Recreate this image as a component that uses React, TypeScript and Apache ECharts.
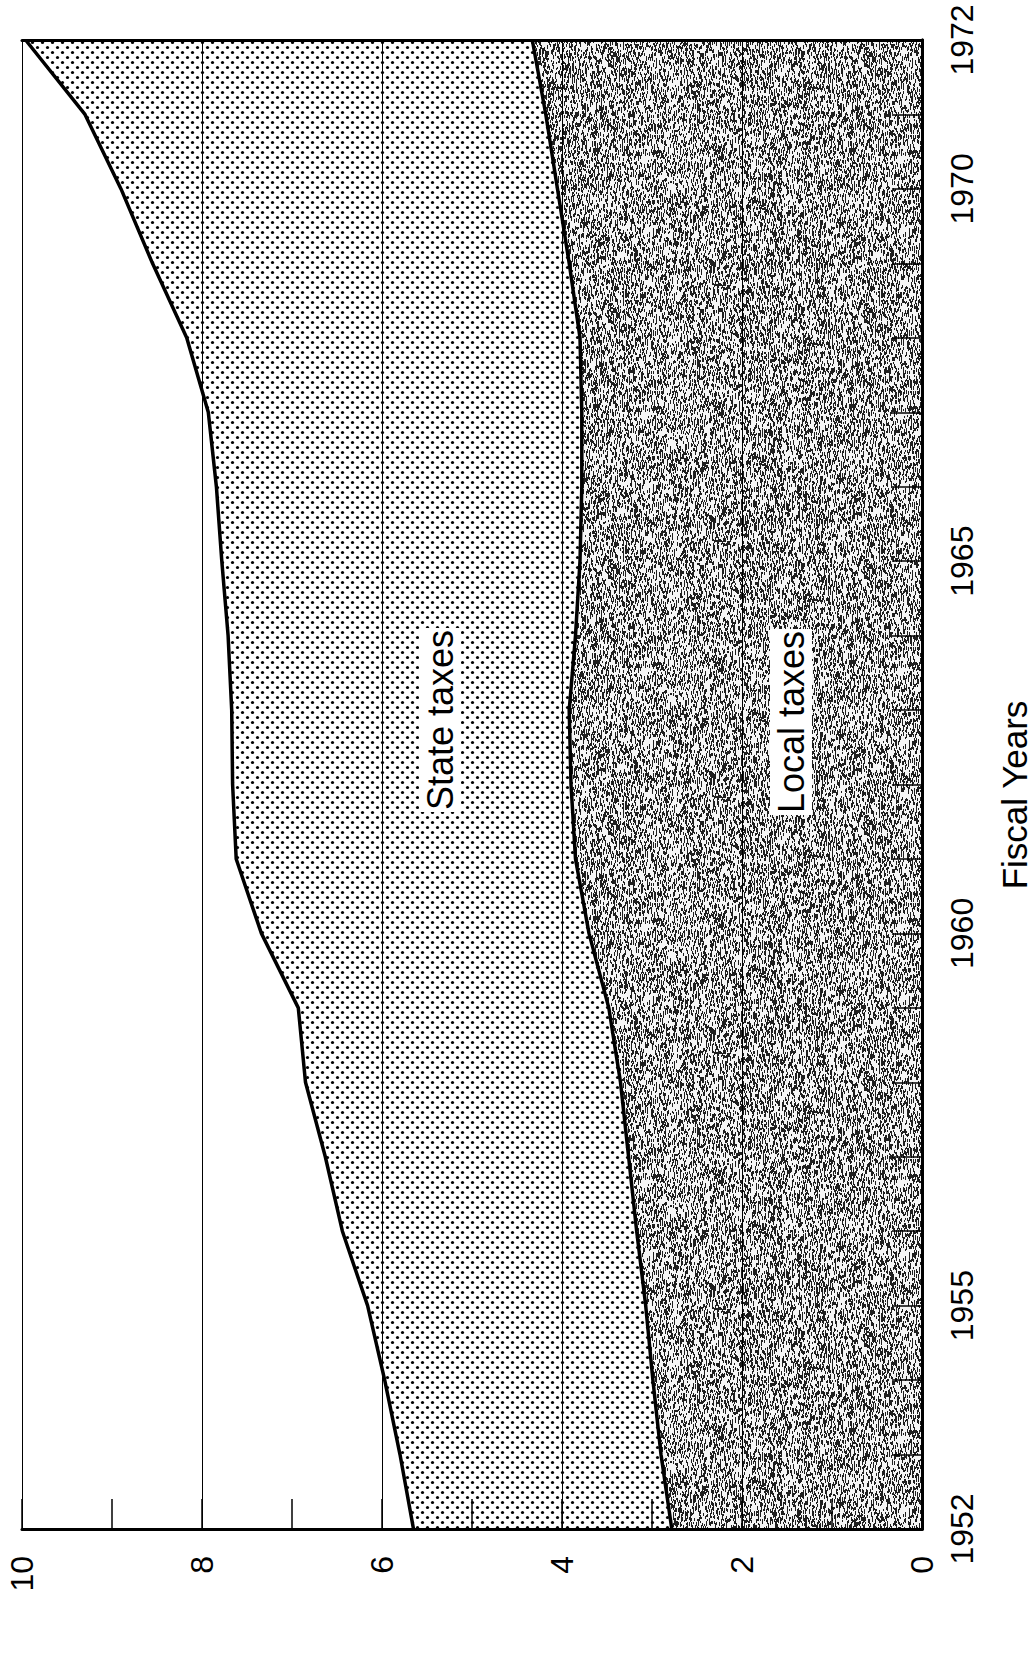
import React, { useEffect, useRef } from "react";
import * as echarts from "echarts";

const years = [
  "1952", "1953", "1954", "1955", "1956", "1957", "1958", "1959", "1960", "1961",
  "1962", "1963", "1964", "1965", "1966", "1967", "1968", "1969", "1970", "1971", "1972",
];
const yearLabels = ["1952", "1955", "1960", "1965", "1970", "1972"];
const valueLabels = [0, 2, 4, 6, 8, 10];

// Top of the state-taxes band (state + local)
const totalTaxes = [
  5.65, 5.8, 5.97, 6.16, 6.44, 6.63, 6.85, 6.93, 7.34, 7.62,
  7.66, 7.67, 7.71, 7.78, 7.84, 7.93, 8.17, 8.55, 8.9, 9.3, 9.96,
];
// Top of the local-taxes band
const localTaxes = [
  2.78, 2.9, 2.99, 3.07, 3.17, 3.26, 3.35, 3.48, 3.7, 3.85,
  3.9, 3.92, 3.85, 3.8, 3.78, 3.78, 3.8, 3.92, 4.05, 4.18, 4.33,
];

const FONT = '"Liberation Sans", Arial, Helvetica, sans-serif';

function makeDots(): HTMLCanvasElement {
  const c = document.createElement("canvas");
  c.width = 10;
  c.height = 10;
  const ctx = c.getContext("2d")!;
  ctx.fillStyle = "#ffffff";
  ctx.fillRect(0, 0, 10, 10);
  ctx.fillStyle = "#000000";
  const pts = [
    [2.5, 2.5],
    [7.5, 7.5],
  ];
  for (const [x, y] of pts) {
    ctx.beginPath();
    ctx.arc(x, y, 1.6, 0, Math.PI * 2);
    ctx.fill();
  }
  return c;
}

function makeStipple(): HTMLCanvasElement {
  const n = 256;
  const c = document.createElement("canvas");
  c.width = n;
  c.height = n;
  const ctx = c.getContext("2d")!;
  const img = ctx.createImageData(n, n);
  let s = 987654;
  const next = () => {
    s = (s * 1103515245 + 12345) & 0x7fffffff;
    return s / 0x7fffffff;
  };
  const dark = new Uint8Array(n * n);
  const count = Math.floor(n * n * 0.27);
  for (let i = 0; i < count; i++) {
    const x = Math.floor(next() * n) % n;
    const y = Math.floor(next() * n) % n;
    const len = 2 + Math.floor(next() * 3);
    for (let k = 0; k < len; k++) dark[((y + k) % n) * n + x] = 1;
  }
  for (let i = 0; i < n * n; i++) {
    const v = dark[i] ? 30 : 245;
    img.data[i * 4] = v;
    img.data[i * 4 + 1] = v;
    img.data[i * 4 + 2] = v;
    img.data[i * 4 + 3] = 255;
  }
  ctx.putImageData(img, 0, 0);
  return c;
}

export default function App() {
  const ref = useRef<HTMLDivElement>(null);

  useEffect(() => {
    if (!ref.current) return;
    const chart = echarts.init(ref.current, undefined, { renderer: "svg" });
    const dots = makeDots();
    const stipple = makeStipple();

    const option: any = {
      animation: false,
      backgroundColor: "#ffffff",
      grid: { left: 22, top: 40, width: 900, height: 1489, containLabel: false },
      xAxis: [
        {
          type: "value",
          min: 0,
          max: 10,
          interval: 1,
          inverse: true,
          position: "bottom",
          z: 5,
          axisLine: { show: true, lineStyle: { color: "#000", width: 3 } },
          axisTick: { show: true, inside: true, length: 30, lineStyle: { color: "#000", width: 1.5 } },
          axisLabel: {
            rotate: 90,
            margin: 27,
            fontSize: 32,
            fontFamily: FONT,
            color: "#000",
            formatter: (v: number) => (valueLabels.includes(v) ? String(v) : ""),
          },
          splitLine: { show: false },
        },
        {
          type: "value",
          min: 0,
          max: 10,
          interval: 2,
          inverse: true,
          position: "top",
          z: 5,
          axisLine: { show: true, lineStyle: { color: "#000", width: 3 } },
          axisTick: { show: false },
          axisLabel: { show: false },
          splitLine: { show: true, lineStyle: { color: "#000", width: 1 } },
        },
      ],
      yAxis: [
        {
          type: "category",
          data: years,
          boundaryGap: false,
          position: "right",
          z: 5,
          axisLine: { show: true, lineStyle: { color: "#000", width: 3 } },
          axisTick: { show: true, inside: true, length: 30, interval: 0, lineStyle: { color: "#000", width: 1.5 } },
          axisLabel: {
            interval: 0,
            rotate: 90,
            margin: 24,
            fontSize: 32,
            fontFamily: FONT,
            color: "#000",
            formatter: (v: string) => (yearLabels.includes(v) ? v : ""),
          },
          splitLine: { show: false },
        },
        {
          type: "category",
          data: years,
          boundaryGap: false,
          position: "left",
          z: 5,
          axisLine: { show: true, lineStyle: { color: "#000", width: 3 } },
          axisTick: { show: false },
          axisLabel: { show: false },
          splitLine: { show: false },
        },
      ],
      series: [
        {
          name: "State taxes",
          type: "line",
          xAxisIndex: 0,
          yAxisIndex: 0,
          data: totalTaxes,
          symbol: "none",
          silent: true,
          lineStyle: { color: "#000", width: 3.5 },
          areaStyle: { color: { image: dots, repeat: "repeat" }, opacity: 1 },
          z: 2,
        },
        {
          name: "Local taxes",
          type: "line",
          xAxisIndex: 0,
          yAxisIndex: 0,
          data: localTaxes,
          symbol: "none",
          silent: true,
          lineStyle: { color: "#000", width: 3.5 },
          areaStyle: { color: { image: stipple, repeat: "repeat" }, opacity: 1 },
          z: 3,
        },
      ],
      graphic: [
        {
          type: "text",
          x: 440,
          y: 720,
          rotation: Math.PI / 2,
          z: 10,
          style: {
            text: "State taxes",
            font: `36px ${FONT}`,
            fill: "#000",
            align: "center",
            verticalAlign: "middle",
            backgroundColor: "#fff",
            padding: [3, 2],
          },
        },
        {
          type: "text",
          x: 791,
          y: 722,
          rotation: Math.PI / 2,
          z: 10,
          style: {
            text: "Local taxes",
            font: `36px ${FONT}`,
            fill: "#000",
            align: "center",
            verticalAlign: "middle",
            backgroundColor: "#fff",
            padding: [3, 2],
          },
        },
        {
          type: "text",
          x: 1014,
          y: 795,
          rotation: Math.PI / 2,
          z: 10,
          style: {
            text: "Fiscal Years",
            font: `35px ${FONT}`,
            fill: "#000",
            align: "center",
            verticalAlign: "middle",
          },
        },
      ],
    };

    chart.setOption(option);
    return () => chart.dispose();
  }, []);

  return (
    <div
      ref={ref}
      style={{ position: "fixed", left: 0, top: 0, width: 1036, height: 1654 }}
    />
  );
}
